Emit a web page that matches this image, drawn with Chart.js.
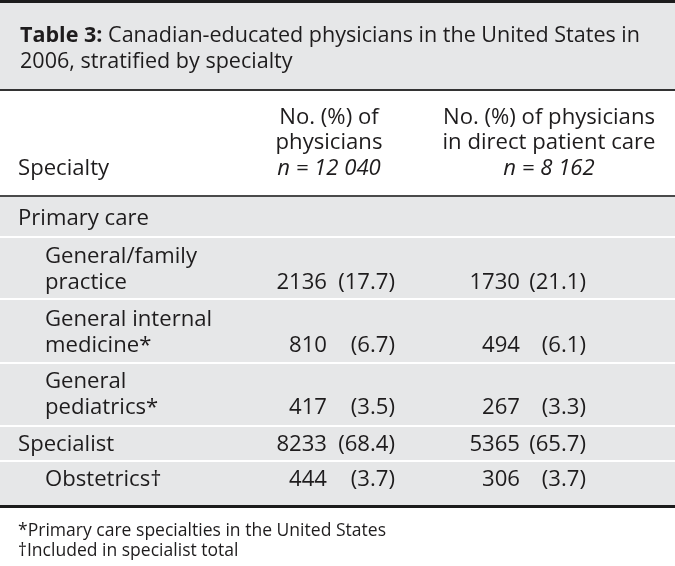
<!DOCTYPE html>
<html>
<head>
<meta charset="utf-8">
<script src="https://cdn.jsdelivr.net/npm/chart.js@4"></script>
<style>
  html, body { margin: 0; padding: 0; background: #fff; }
  #wrap { width: 675px; height: 566px; }
</style>
</head>
<body>
<div id="wrap"><canvas id="tbl" width="675" height="566"></canvas></div>
<script>
// table data
const titleBold = "Table 3:";
const titleLines = [" Canadian-educated physicians in the United States in", "2006, stratified by specialty"];
const headFirst = "Specialty";
const headAll = ["No. (%) of", "physicians", "n = 12 040"];
const headDpc = ["No. (%) of physicians", "in direct patient care", "n = 8 162"];
const specialties = [["Primary care"], ["General/family", "practice"], ["General internal", "medicine*"], ["General", "pediatrics*"], ["Specialist"], ["Obstetrics\u2020"]];
const indented = [false, true, true, true, false, true];
const allCount = [null, 2136, 810, 417, 8233, 444];
const allPct = [null, 17.7, 6.7, 3.5, 68.4, 3.7];
const dpcCount = [null, 1730, 494, 267, 5365, 306];
const dpcPct = [null, 21.1, 6.1, 3.3, 65.7, 3.7];
const footnotes = ["*Primary care specialties in the United States", "\u2020Included in specialist total"];

// layout (in chart units == px)
const rowTop = [197, 238, 300, 364, 427, 462];
const rowBottom = [236, 298, 362, 425, 460, 505];
const rowLineY = [[219], [257, 283], [320, 346], [382, 408], [445], [480]];
const FONT = "'Open Sans', sans-serif";
const INK = "#1e1c1d";
const GREY = "#e6e7e8";

// the source face is narrower than anything installed, so squeeze horizontally
let sx = 1;
function squeeze(ctx, font, text, target) {
  ctx.font = font;
  return target / ctx.measureText(text).width;
}
function put(ctx, text, x, y, align) {
  ctx.save();
  ctx.translate(x, y);
  ctx.scale(sx, 1);
  ctx.textAlign = align || "left";
  ctx.fillText(text, 0, 0);
  ctx.restore();
}

const tablePlugin = {
  id: "table",
  beforeDraw(chart) {
    const { ctx, scales: { x, y } } = chart;
    const X = v => x.getPixelForValue(v);
    const Y = v => y.getPixelForValue(v);
    const W = X(675) - X(0);
    ctx.save();
    // title band
    ctx.fillStyle = GREY;
    ctx.fillRect(X(0), Y(0), W, Y(90) - Y(0));
    ctx.fillStyle = "#1c1c1c";
    ctx.fillRect(X(0), Y(0), W, Y(3) - Y(0));
    ctx.fillStyle = "#333";
    ctx.fillRect(X(0), Y(89), W, 2);
    // header bottom line
    ctx.fillStyle = "#4a4a4a";
    ctx.fillRect(X(0), Y(195), W, 2);
    // body rows
    ctx.fillStyle = GREY;
    rowTop.forEach((t, i) => {
      ctx.fillRect(X(0), Y(t), W, Y(rowBottom[i]) - Y(t));
    });
    ctx.fillStyle = "#1c1c1c";
    ctx.fillRect(X(0), Y(505), W, 3);
    ctx.restore();
  },
  afterDraw(chart) {
    const { ctx, scales: { x, y } } = chart;
    const X = v => x.getPixelForValue(v);
    const Y = v => y.getPixelForValue(v);
    ctx.save();
    ctx.fillStyle = INK;
    ctx.textBaseline = "middle";

    // title
    const tReg = "22px " + FONT, tBold = "bold 22px " + FONT;
    ctx.font = tBold;
    const bw = ctx.measureText(titleBold).width;
    ctx.font = tReg;
    sx = 620 / (bw + ctx.measureText(titleLines[0]).width);
    ctx.font = tBold;
    put(ctx, titleBold, X(20), Y(36));
    ctx.font = tReg;
    put(ctx, titleLines[0], X(20) + bw * sx, Y(36));
    put(ctx, titleLines[1], X(20), Y(62));

    // header
    const body = "22px " + FONT;
    const bodyIt = "italic " + body;
    sx = squeeze(ctx, body, "General/family", 152);
    ctx.font = body;
    put(ctx, headFirst, X(18), Y(169));
    [118, 143, 169].forEach((ly, i) => {
      ctx.font = i === 2 ? bodyIt : body;
      put(ctx, headAll[i], X(329), Y(ly), "center");
      put(ctx, headDpc[i], X(549), Y(ly), "center");
    });

    // body rows
    ctx.font = body;
    specialties.forEach((lines, i) => {
      lines.forEach((s, k) => {
        put(ctx, s, X(indented[i] ? 45 : 18), Y(rowLineY[i][k]));
      });
      if (allCount[i] == null) return;
      const ly = Y(rowLineY[i][lines.length - 1]);
      put(ctx, String(allCount[i]), X(327), ly, "right");
      put(ctx, "(" + allPct[i].toFixed(1) + ")", X(395), ly, "right");
      put(ctx, String(dpcCount[i]), X(520), ly, "right");
      put(ctx, "(" + dpcPct[i].toFixed(1) + ")", X(586), ly, "right");
    });

    // footnotes
    const foot = "19px " + FONT;
    sx = squeeze(ctx, foot, footnotes[0], 368);
    ctx.font = foot;
    put(ctx, footnotes[0], X(18), Y(531));
    put(ctx, footnotes[1], X(18), Y(551));
    ctx.restore();
  }
};

new Chart(document.getElementById("tbl"), {
  type: "scatter",
  data: { datasets: [{ data: [], pointRadius: 0 }] },
  options: {
    responsive: false,
    animation: false,
    layout: { padding: 0 },
    plugins: { legend: { display: false }, tooltip: { enabled: false } },
    scales: {
      x: { type: "linear", min: 0, max: 675, display: false },
      y: { type: "linear", min: 0, max: 566, reverse: true, display: false }
    }
  },
  plugins: [tablePlugin]
});
</script>
</body>
</html>
